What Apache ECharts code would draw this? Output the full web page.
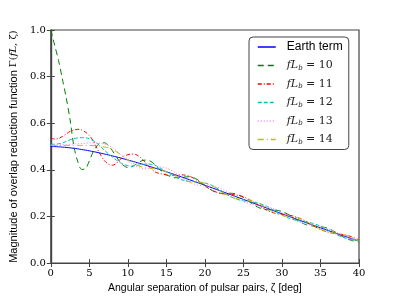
<!DOCTYPE html>
<html><head><meta charset="utf-8">
<script src="https://cdn.jsdelivr.net/npm/echarts@6/dist/echarts.min.js"></script>
<style>html,body{margin:0;padding:0;background:#fff}#c{width:399px;height:299px}</style>
</head><body><div id="c"></div>
<script>
const zeta = [0,0.5,1,1.5,2,2.5,3,3.5,4,4.5,5,5.5,6,6.5,7,7.5,8,8.5,9,9.5,10,10.5,11,11.5,12,12.5,13,13.5,14,14.5,15,15.5,16,
  17,18,19,20,21,22,23,24,25,26,27,28,29,30,31,32,33,34,35,36,37,38,39,40];
const earth = [0.5000,0.4997,0.4989,0.4977,0.4962,0.4944,0.4923,0.4900,0.4874,0.4846,0.4816,0.4784,0.4751,0.4715,0.4678,0.4639,0.4599,0.4557,0.4515,0.4470,0.4425,0.4378,0.4331,0.4282,0.4232,0.4182,0.4130,0.4078,0.4025,0.3971,0.3917,0.3862,0.3806,
  0.3692,0.3577,0.3459,0.3341,0.3220,0.3100,0.2977,0.2855,0.2732,0.2609,0.2485,0.2362,0.2239,0.2116,0.1994,0.1873,0.1753,0.1633,0.1515,0.1397,0.1281,0.1167,0.1054,0.0942];
const fl10 = [1.000,0.935,0.870,0.790,0.710,0.615,0.500,0.435,0.402,0.405,0.438,0.478,0.503,0.516,0.516,0.503,0.482,0.457,0.433,0.417,0.410,0.413,0.423,0.434,0.441,0.442,0.436,0.423,0.406,0.391,0.379,0.372,0.366,
  0.3682,0.3706,0.3588,0.3333,0.3102,0.2997,0.2998,0.2969,0.2819,0.2577,0.2378,0.2291,0.2280,0.2215,0.2050,0.1831,0.1663,0.1591,0.1565,0.1487,0.1314,0.1109,0.0976,0.0912];
const fl11 = [0.537,0.532,0.534,0.543,0.554,0.565,0.571,0.574,0.571,0.562,0.547,0.525,0.492,0.462,0.438,0.424,0.420,0.428,0.445,0.458,0.465,0.468,0.466,0.457,0.441,0.423,0.405,0.392,0.385,0.382,0.378,0.377,0.377,
  0.3785,0.3727,0.3552,0.3308,0.3112,0.2992,0.2950,0.2924,0.2842,0.2678,0.2460,0.2272,0.2149,0.2094,0.2050,0.1963,0.1809,0.1613,0.1443,0.1325,0.1263,0.1217,0.1134,0.0992];
const fl12 = [0.510,0.510,0.512,0.515,0.522,0.529,0.534,0.537,0.538,0.538,0.533,0.525,0.514,0.499,0.483,0.468,0.455,0.442,0.431,0.423,0.418,0.416,0.418,0.421,0.424,0.425,0.424,0.420,0.412,0.402,0.392,0.382,0.373,
  0.3572,0.3502,0.3484,0.3440,0.3319,0.3125,0.2915,0.2755,0.2670,0.2629,0.2566,0.2443,0.2259,0.2066,0.1914,0.1823,0.1771,0.1705,0.1587,0.1415,0.1237,0.1097,0.1010,0.0958];
const fl13 = [0.506,0.506,0.507,0.508,0.509,0.510,0.511,0.512,0.513,0.514,0.515,0.515,0.515,0.513,0.510,0.505,0.495,0.483,0.468,0.452,0.438,0.426,0.416,0.409,0.405,0.404,0.406,0.410,0.412,0.411,0.408,0.400,0.391,
  0.3665,0.3469,0.3351,0.3314,0.3289,0.3210,0.3046,0.2833,0.2642,0.2519,0.2463,0.2418,0.2329,0.2172,0.1976,0.1801,0.1681,0.1615,0.1565,0.1477,0.1331,0.1151,0.1040,0.0975];
const fl14 = [0.505,0.505,0.505,0.505,0.505,0.505,0.505,0.505,0.505,0.505,0.505,0.504,0.503,0.501,0.498,0.494,0.487,0.478,0.467,0.455,0.443,0.432,0.423,0.416,0.411,0.408,0.406,0.404,0.401,0.397,0.392,0.386,0.380,
  0.3605,0.3490,0.3459,0.3427,0.3306,0.3100,0.2895,0.2773,0.2732,0.2687,0.2563,0.2362,0.2165,0.2042,0.1994,0.1943,0.1823,0.1633,0.1450,0.1332,0.1281,0.1227,0.1114,0.0942];
const seriesNames = ['Earth term','fL_b = 10','fL_b = 11','fL_b = 12','fL_b = 13','fL_b = 14'];
const xTicks = [0,5,10,15,20,25,30,35,40];
const yTicks = [0.0,0.2,0.4,0.6,0.8,1.0];

const pair = v => zeta.map((z,i)=>[z,v[i]]);
const styles = [
  {color:'#0000ff', type:'solid'},
  {color:'#008000', type:[6,4]},
  {color:'#ff0000', type:[4,2,1,2]},
  {color:'#00bfbf', type:[4,2]},
  {color:'#ee82ee', type:[1,2]},
  {color:'#bfbf00', type:[6,3,1,3]}
];
const vals = [earth, fl10, fl11, fl12, fl13, fl14];
const serif = "'DejaVu Serif', serif";
const sans = "'Liberation Sans', Arial, sans-serif";
const chart = echarts.init(document.getElementById('c'), null, {renderer:'canvas'});
const axisCommon = {
  axisLine:{show:true, lineStyle:{color:'#444', width:1.2}},
  axisTick:{show:true, inside:true, length:4, lineStyle:{color:'#444'}},
  splitLine:{show:false}
};
chart.setOption({
  animation:false,
  backgroundColor:'#fff',
  grid:{left:50, top:30, width:309, height:240, show:true, borderColor:'#444', borderWidth:1.2, containLabel:false},
  xAxis:[
    Object.assign({type:'value', min:xTicks[0], max:xTicks[xTicks.length-1], interval:5, position:'bottom',
      axisLabel:{fontFamily:serif, fontSize:10, color:'#000', margin:5},
      name:'Angular separation of pulsar pairs, ζ [deg]', nameLocation:'middle', nameGap:18,
      nameTextStyle:{fontFamily:sans, fontSize:10.5, color:'#000'}}, axisCommon),
    Object.assign({type:'value', min:xTicks[0], max:xTicks[xTicks.length-1], interval:5, position:'top',
      axisLabel:{show:false}}, axisCommon)
  ],
  yAxis:[
    Object.assign({type:'value', min:yTicks[0], max:yTicks[yTicks.length-1], interval:0.2, position:'left',
      axisLabel:{fontFamily:serif, fontSize:10, color:'#000', margin:5, formatter:v=>v.toFixed(1)},
      name:'Magnitude of overlap reduction function {g|Γ(}{m|fL}{g|, ζ)}', nameLocation:'middle', nameGap:30,
      nameTextStyle:{fontFamily:sans, fontSize:11, color:'#000',
        rich:{g:{fontFamily:serif, fontSize:10, color:'#000'}, m:{fontFamily:serif, fontStyle:'italic', fontSize:10, color:'#000'}}}}, axisCommon),
    Object.assign({type:'value', min:yTicks[0], max:yTicks[yTicks.length-1], interval:0.2, position:'right',
      axisLabel:{show:false}}, axisCommon)
  ],
  legend:{
    orient:'vertical', left:249, top:37, width:104,
    backgroundColor:'#fff', borderColor:'#444', borderWidth:1, borderRadius:4,
    padding:[4,6,4,8], itemWidth:18, itemHeight:10, itemGap:7,
    itemStyle:{opacity:0},
    data:seriesNames.map((n,k)=>({name:n, lineStyle:{color:styles[k].color, type:styles[k].type, width:1.5}})),
    formatter:function(n){
      if(n==='Earth term') return '{e|Earth term}';
      const num = n.split('= ')[1];
      return '{i|fL}{s|b}{n| = '+num+'}';
    },
    textStyle:{padding:[0,0,0,6], rich:{
      e:{fontFamily:sans, fontSize:12, color:'#000'},
      i:{fontFamily:serif, fontStyle:'italic', fontSize:11, color:'#222'},
      s:{fontFamily:serif, fontStyle:'italic', fontSize:7, color:'#222', padding:[5,0,0,0]},
      n:{fontFamily:serif, fontSize:11, color:'#222'}
    }}
  },
  series: seriesNames.map((n,k)=>({
    name:n, type:'line', xAxisIndex:0, yAxisIndex:0, data:pair(vals[k]),
    showSymbol:false, symbol:'none', smooth:0.3,
    lineStyle:{color:styles[k].color, type:styles[k].type, width:1},
    itemStyle:{color:styles[k].color}
  }))
});
</script></body></html>
